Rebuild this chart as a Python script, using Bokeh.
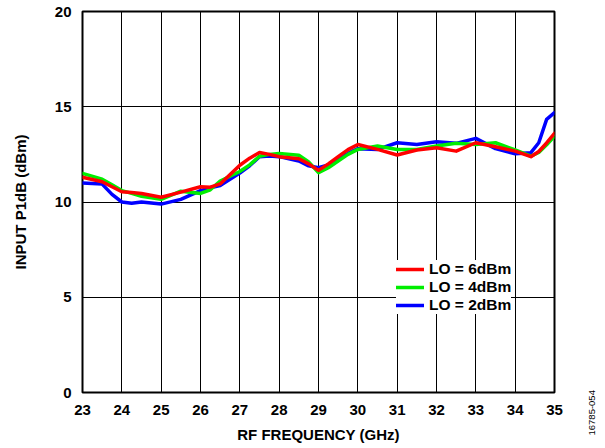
from bokeh.plotting import figure
from bokeh.models import Legend, LegendItem, Title, FixedTicker, Range1d
from bokeh.layouts import row
from bokeh.embed import file_html
from bokeh.resources import INLINE

freq = [23, 23.5, 23.75, 24, 24.25, 24.5, 25, 25.5, 26, 26.25, 26.5, 27, 27.25, 27.5, 27.75, 28, 28.5, 28.75,
        29, 29.25, 29.5, 29.75, 30, 30.5, 31, 31.5, 32, 32.5, 33, 33.5, 34, 34.4, 34.6, 34.8, 35]
lo_6dbm = [11.3, 11.06, 10.8, 10.54, 10.5, 10.45, 10.25, 10.52, 10.8, 10.78, 10.95, 11.93, 12.3, 12.6, 12.5, 12.38, 12.27, 12.0,
           11.66, 12.0, 12.38, 12.75, 13.02, 12.76, 12.47, 12.73, 12.85, 12.67, 13.11, 12.9, 12.67, 12.38, 12.65, 13.1, 13.6]
lo_4dbm = [11.5, 11.2, 10.9, 10.6, 10.45, 10.3, 10.14, 10.57, 10.45, 10.64, 11.1, 11.6, 11.95, 12.4, 12.5, 12.55, 12.46, 12.1,
           11.54, 11.8, 12.15, 12.5, 12.76, 12.94, 12.76, 12.76, 12.94, 13.08, 13.02, 13.11, 12.73, 12.41, 12.6, 13.0, 13.45]
lo_2dbm = [11.0, 10.94, 10.4, 10.0, 9.93, 10.0, 9.89, 10.14, 10.6, 10.75, 10.87, 11.52, 11.9, 12.38, 12.42, 12.38, 12.15, 11.9,
           11.8, 11.95, 12.24, 12.55, 12.8, 12.76, 13.11, 13.02, 13.16, 13.08, 13.34, 12.8, 12.53, 12.59, 13.11, 14.34, 14.69]

x_ticks = list(range(23, 36))
y_ticks = [0, 5, 10, 15, 20]
labels = ["LO = 6dBm", "LO = 4dBm", "LO = 2dBm"]
colors = ["#ff0000", "#00ee00", "#0000ff"]
figure_id = "16785-054"

FONT = "Liberation Sans"

p = figure(width=585, height=445, output_backend="svg", toolbar_location=None,
           x_range=Range1d(23, 35), y_range=Range1d(0, 20),
           min_border_left=82, min_border_right=31, min_border_top=11, min_border_bottom=51)

p.outline_line_color = "black"
p.outline_line_width = 2
p.background_fill_color = "white"
p.border_fill_color = "white"

for ax in (p.xaxis, p.yaxis):
    ax.axis_line_color = None
    ax.major_tick_line_color = None
    ax.minor_tick_line_color = None
    ax.major_label_text_font = FONT
    ax.major_label_text_font_style = "bold"
    ax.major_label_text_font_size = "15px"
    ax.major_label_text_color = "black"
    ax.axis_label_text_font = FONT
    ax.axis_label_text_font_style = "bold"
    ax.axis_label_text_font_size = "15px"
    ax.axis_label_text_color = "black"

p.xaxis.ticker = FixedTicker(ticks=x_ticks)
p.yaxis.ticker = FixedTicker(ticks=y_ticks)
p.xaxis.axis_label = "RF FREQUENCY (GHz)"
p.yaxis.axis_label = "INPUT P1dB (dBm)"
p.xaxis.major_label_standoff = 6
p.yaxis.major_label_standoff = 5
p.xaxis.axis_label_standoff = 8
p.yaxis.axis_label_standoff = 23

for g in (p.xgrid, p.ygrid):
    g.grid_line_color = "black"
    g.grid_line_width = 1
p.xgrid.ticker = FixedTicker(ticks=x_ticks)
p.ygrid.ticker = FixedTicker(ticks=y_ticks)

renderers = []
for ys, c in zip([lo_6dbm, lo_4dbm, lo_2dbm], colors):
    r = p.line(freq, ys, line_color=c, line_width=3.5, line_join="round", line_cap="round")
    renderers.append(r)

p.renderers = [renderers[2], renderers[1], renderers[0]]

legend = Legend(items=[LegendItem(label=l, renderers=[r]) for l, r in zip(labels, renderers)],
                location=(314, 78), orientation="vertical",
                label_text_font=FONT, label_text_font_style="bold", label_text_font_size="15.5px",
                label_text_color="black", label_height=14, label_standoff=5,
                glyph_width=28, glyph_height=14, spacing=-3, padding=6, margin=0,
                border_line_color=None, background_fill_color="white", background_fill_alpha=1.0)
p.add_layout(legend)

# narrow side panel holding the rotated figure number (left-side title reads bottom-to-top)
q = figure(width=15, height=445, output_backend="svg", toolbar_location=None, title=None,
           x_range=Range1d(0, 1), y_range=Range1d(0, 1),
           x_axis_location=None, y_axis_location=None, min_border=0)
q.outline_line_color = None
q.grid.visible = False
q.background_fill_color = "white"
q.border_fill_color = "white"
q.add_layout(Title(text=figure_id, align="left", offset=-43, standoff=2,
                   text_font=FONT, text_font_size="9.5px", text_font_style="normal",
                   text_color="black"), "left")

layout = row(p, q, spacing=0)
open("out.html", "w").write(file_html(layout, INLINE))
